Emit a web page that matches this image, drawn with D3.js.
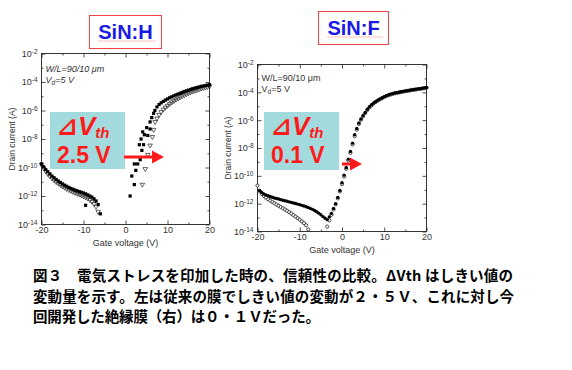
<!DOCTYPE html>
<html>
<head>
<meta charset="utf-8">
<script src="https://cdn.jsdelivr.net/npm/d3@7"></script>
<style>
  body { margin: 0; background: #fff; }
  svg { display: block; }
</style>
</head>
<body>
<script>
// ---- axis ticks ----
const xTicks = [-20, -10, 0, 10, 20];
const xMinor = [-15, -5, 5, 15];
const yTickExp = [-14, -12, -10, -8, -6, -4, -2];
const yMinorExp = [-13, -11, -9, -7, -5, -3];

// ---- data: [gate voltage (V), log10 drain current (A)] ----
// SiN:H, filled squares
const hFilled = [
  [-20,-9.75],[-19.5,-9.95],[-19,-10.15],[-18.5,-10.3],[-18,-10.45],[-17.5,-10.6],[-17,-10.72],
  [-16.5,-10.84],[-16,-10.95],[-15.5,-11.05],[-15,-11.15],[-14.5,-11.24],[-14,-11.32],[-13.5,-11.4],
  [-13,-11.47],[-12.5,-11.53],[-12,-11.59],[-11.5,-11.64],[-11,-11.69],[-10.5,-11.74],[-10,-11.79],
  [-9.5,-11.85],[-9.5,-12.65],[-9,-11.92],[-8.5,-12.0],[-8,-12.08],[-7.5,-12.2],[-7,-12.35],[-6.5,-12.6],[-6,-13.25],
  [1.1,-12.0],[1.5,-10.6],[2.1,-11.2],[2.1,-9.75],[2.45,-10.2],[2.9,-9.75],[3.3,-8.4],[3.5,-9.45],
  [3.7,-8.0],[3.9,-8.8],[4.1,-7.5],[4.3,-8.4],[4.5,-7.7],[5.05,-7.2],[5.3,-7.75],[5.85,-7.3],
  [5.85,-6.8],[6.25,-6.5],[6.7,-6.2],[7,-6.0],[7.5,-5.75],[8,-5.58],[8.5,-5.46],[9,-5.36],[9.5,-5.27],
  [10,-5.19],[10.5,-5.11],[11,-5.04],[11.5,-4.97],[12,-4.91],[12.5,-4.85],[13,-4.79],[13.5,-4.73],
  [14,-4.67],[14.5,-4.62],[15,-4.57],[15.5,-4.52],[16,-4.47],[16.5,-4.43],[17,-4.39],[17.5,-4.35],
  [18,-4.31],[18.5,-4.28],[19,-4.25],[19.5,-4.22],[20,-4.19]
];
// SiN:H, open triangles
const hOpen = [
  [-20,-9.8],[-19.5,-10.05],[-19,-10.27],[-18.5,-10.45],[-18,-10.61],[-17.5,-10.76],[-17,-10.89],
  [-16.5,-11.01],[-16,-11.12],[-15.5,-11.22],[-15,-11.32],[-14.5,-11.41],[-14,-11.49],[-13.5,-11.57],
  [-13,-11.64],[-12.5,-11.71],[-12,-11.77],[-11.5,-11.83],[-11,-11.89],[-10.5,-11.95],[-10,-12.02],
  [-9.5,-12.09],[-9,-12.17],[-8.5,-12.27],[-8,-12.39],[-7.5,-12.55],[-7,-12.75],[-6.5,-13.1],
  [4.0,-11.2],[4.7,-10.1],[5.3,-9.1],[5.85,-8.45],[6.4,-7.85],[6.7,-7.35],[7.05,-6.8],[7.5,-6.55],
  [8,-6.3],[8.5,-6.1],[9,-5.93],[9.5,-5.79],[10,-5.66],[10.5,-5.54],[11,-5.43],[11.5,-5.33],
  [12,-5.24],[12.5,-5.15],[13,-5.07],[13.5,-4.99],[14,-4.92],[14.5,-4.85],[15,-4.78],[15.5,-4.72],
  [16,-4.66],[16.5,-4.61],[17,-4.56],[17.5,-4.51],[18,-4.46],[18.5,-4.42],[19,-4.38],[19.5,-4.34],[20,-4.3]
];
// SiN:F, filled circles
const fFilled = [
  [-20,-10.75],[-19.5,-11.05],[-19,-11.2],[-18.5,-11.3],[-18,-11.37],[-17.5,-11.43],[-17,-11.49],
  [-16.5,-11.54],[-16,-11.59],[-15.5,-11.63],[-15,-11.67],[-14.5,-11.71],[-14,-11.75],[-13.5,-11.79],
  [-13,-11.83],[-12.5,-11.87],[-12,-11.91],[-11.5,-11.95],[-11,-11.99],[-10.5,-12.03],[-10,-12.07],
  [-9.5,-12.12],[-9,-12.17],[-8.5,-12.22],[-8,-12.28],[-7.5,-12.34],[-7,-12.41],[-6.5,-12.49],
  [-6,-12.58],[-5.5,-12.68],[-5,-12.8],[-4.5,-12.93],[-4,-13.05],[-3.5,-13.15],[-3,-12.95],
  [-2.5,-12.7],[-2,-12.35],[-1.5,-12.0],[-1,-11.55],[-0.5,-11.05],[0,-10.5],[0.5,-9.95],[1,-9.4],
  [1.5,-8.8],[2,-8.25],[2.5,-7.65],[3,-7.05],[3.5,-6.6],[4,-6.2],[4.5,-5.92],[5,-5.67],[5.5,-5.45],
  [6,-5.22],[6.5,-5.04],[7,-4.89],[7.5,-4.77],[8,-4.66],[8.5,-4.56],[9,-4.47],[9.5,-4.39],[10,-4.31],
  [10.5,-4.24],[11,-4.18],[11.5,-4.13],[12,-4.09],[12.5,-4.05],[13,-4.02],[13.5,-3.99],[14,-3.96],
  [14.5,-3.93],[15,-3.9],[15.5,-3.88],[16,-3.85],[16.5,-3.83],[17,-3.8],[17.5,-3.78],[18,-3.75],
  [18.5,-3.73],[19,-3.71],[19.5,-3.68],[20,-3.65]
];
// SiN:F, open circles
const fOpen = [
  [-20,-10.7],[-19.5,-11.1],[-19,-11.3],[-18.5,-11.45],[-18,-11.57],[-17.5,-11.68],[-17,-11.78],
  [-16.5,-11.88],[-16,-11.97],[-15.5,-12.06],[-15,-12.15],[-14.5,-12.24],[-14,-12.33],[-13.5,-12.42],
  [-13,-12.51],[-12.5,-12.61],[-12,-12.71],[-11.5,-12.82],[-11,-12.93],[-10.5,-13.04],[-10,-13.15],
  [-9.5,-13.27],[-9,-13.4],[-8.5,-13.55],[-8,-13.85],
  [-3.5,-13.65],[-3,-13.2],[-2.5,-12.8],[-2,-12.42],[-1.5,-12.05],[-1,-11.62],[-0.5,-11.12],[0,-10.6],
  [0.5,-10.05],[1,-9.5],[1.5,-8.9],[2,-8.35],[2.5,-7.75],[3,-7.15],[3.5,-6.68],[4,-6.27],[4.5,-5.97],
  [5,-5.72],[5.5,-5.49],[6,-5.27],[6.5,-5.08],[7,-4.93],[7.5,-4.8],[8,-4.69],[8.5,-4.59],[9,-4.5],
  [9.5,-4.42],[10,-4.34],[10.5,-4.27],[11,-4.21],[11.5,-4.16],[12,-4.11],[12.5,-4.07],[13,-4.04],
  [13.5,-4.01],[14,-3.98],[14.5,-3.95],[15,-3.92],[15.5,-3.9],[16,-3.87],[16.5,-3.83],[17,-3.82],
  [17.5,-3.8],[18,-3.77],[18.5,-3.75],[19,-3.73],[19.5,-3.7],[20,-3.67]
];

const titles = ["SiN:H", "SiN:F"];
const deltaVth = ["2.5 V", "0.1 V"];
const caption = [
  "図３　電気ストレスを印加した時の、信頼性の比較。ΔVth はしきい値の",
  "変動量を示す。左は従来の膜でしきい値の変動が２・５Ｖ、これに対し今",
  "回開発した絶縁膜（右）は０・１Ｖだった。"
];
const captionWidth = [480, 481, 287];

const FONT = "'Liberation Sans', Arial, sans-serif";
const RED = "#ff1a1a";

const svg = d3.select("body").append("svg")
  .attr("width", 572)
  .attr("height", 370);

function styleAxis(sel) {
  sel.select(".domain").remove();
  sel.selectAll("line").attr("stroke", "#222").attr("stroke-width", 0.8);
  sel.selectAll("text").attr("fill", "#333").style("font", "9px " + FONT);
}

function drawPanel(p) {
  const x = d3.scaleLinear().domain([-20, 20]).range([p.left, p.right]);
  const y = d3.scaleLog().domain([1e-14, 1e-2]).range([p.bottom, p.top]);
  const g = svg.append("g");

  // title box
  g.append("rect")
    .attr("x", p.tBox[0]).attr("y", p.tBox[1])
    .attr("width", p.tBox[2]).attr("height", p.tBox[3])
    .attr("fill", "#fff").attr("stroke", "#ee4444").attr("stroke-width", 1);
  g.append("text")
    .attr("x", p.tBox[0] + p.tBox[2] / 2).attr("y", p.tBox[1] + p.tBox[3] / 2 + 7)
    .attr("text-anchor", "middle")
    .attr("fill", "#1a1ae6")
    .style("font", "bold 20px " + FONT)
    .text(p.title);
  g.append("line")
    .attr("x1", p.tBox[0] + 9).attr("x2", p.tBox[0] + p.tBox[2] - 6)
    .attr("y1", p.tBox[1] + p.tBox[3] / 2 + 9).attr("y2", p.tBox[1] + p.tBox[3] / 2 + 9)
    .attr("stroke", "#e66").attr("stroke-width", 0.8).attr("stroke-dasharray", "1,1");

  // cyan annotation box (behind data)
  g.append("rect")
    .attr("x", p.cBox[0]).attr("y", p.cBox[1])
    .attr("width", p.cBox[2]).attr("height", p.cBox[3])
    .attr("fill", "#a3dadd");

  // axes: bottom / top / left / right, ticks inward
  g.append("g").attr("transform", `translate(0,${p.bottom})`)
    .call(d3.axisBottom(x).tickValues(xTicks).tickSize(-4).tickPadding(2).tickFormat(d => String(d)))
    .call(styleAxis);
  g.append("g").attr("transform", `translate(0,${p.bottom})`)
    .call(d3.axisBottom(x).tickValues(xMinor).tickSize(-2).tickFormat(""))
    .call(styleAxis);
  g.append("g").attr("transform", `translate(0,${p.top})`)
    .call(d3.axisTop(x).tickValues(xTicks).tickSize(-4).tickFormat(""))
    .call(styleAxis);
  g.append("g").attr("transform", `translate(0,${p.top})`)
    .call(d3.axisTop(x).tickValues(xMinor).tickSize(-2).tickFormat(""))
    .call(styleAxis);

  const yl = g.append("g").attr("transform", `translate(${p.left},0)`)
    .call(d3.axisLeft(y).tickValues(yTickExp.map(e => Math.pow(10, e))).tickSize(-4).tickPadding(4).tickFormat(""))
    .call(styleAxis);
  yl.selectAll(".tick text").each(function (d) {
    const t = d3.select(this);
    t.text(null);
    t.append("tspan").text("10");
    t.append("tspan").attr("dy", "-0.45em").style("font-size", "6.5px")
      .text(String(Math.round(Math.log10(d))));
  });
  g.append("g").attr("transform", `translate(${p.left},0)`)
    .call(d3.axisLeft(y).tickValues(yMinorExp.map(e => Math.pow(10, e))).tickSize(-2).tickFormat(""))
    .call(styleAxis);
  g.append("g").attr("transform", `translate(${p.right},0)`)
    .call(d3.axisRight(y).tickValues(yTickExp.map(e => Math.pow(10, e))).tickSize(-4).tickFormat(""))
    .call(styleAxis);
  g.append("g").attr("transform", `translate(${p.right},0)`)
    .call(d3.axisRight(y).tickValues(yMinorExp.map(e => Math.pow(10, e))).tickSize(-2).tickFormat(""))
    .call(styleAxis);

  // frame
  g.append("rect")
    .attr("x", p.left).attr("y", p.top)
    .attr("width", p.right - p.left).attr("height", p.bottom - p.top)
    .attr("fill", "none").attr("stroke", "#222").attr("stroke-width", 0.9);

  // axis titles
  g.append("text")
    .attr("x", (p.left + p.right) / 2).attr("y", p.bottom + 21)
    .attr("text-anchor", "middle").attr("fill", "#333")
    .style("font", "9px " + FONT)
    .text("Gate voltage (V)");
  g.append("text")
    .attr("transform", `translate(${p.left - 27},${(p.top + p.bottom) / 2}) rotate(-90)`)
    .attr("text-anchor", "middle").attr("fill", "#333")
    .style("font", "8.5px " + FONT)
    .text("Drain current (A)");

  // conditions
  const cond = g.append("text")
    .attr("x", p.left + 4).attr("y", p.top + p.condDy)
    .attr("fill", "#333")
    .style("font", (p.italic ? "italic " : "") + "9px " + FONT);
  cond.append("tspan").text("W/L=90/10 μm");
  cond.append("tspan").attr("x", p.left + 4).attr("dy", 11).text("V");
  cond.append("tspan").attr("dy", 2).style("font-size", "6.5px").text("d");
  cond.append("tspan").attr("dy", -2).text("=5 V");

  // data markers
  const pt = d => [x(d[0]), y(Math.pow(10, d[1]))];
  if (p.kind === "H") {
    g.append("g").selectAll("path").data(hOpen).join("path")
      .attr("transform", d => `translate(${pt(d)[0]},${pt(d)[1]}) rotate(180)`)
      .attr("d", d3.symbol(d3.symbolTriangle, 9))
      .attr("fill", "none").attr("stroke", "#222").attr("stroke-width", 0.7);
    g.append("g").selectAll("rect").data(hFilled).join("rect")
      .attr("x", d => pt(d)[0] - 1.6).attr("y", d => pt(d)[1] - 1.6)
      .attr("width", 3.2).attr("height", 3.2)
      .attr("fill", "#000");
  } else {
    g.append("g").selectAll("circle").data(fOpen).join("circle")
      .attr("cx", d => pt(d)[0]).attr("cy", d => pt(d)[1]).attr("r", 1.6)
      .attr("fill", "#fff").attr("stroke", "#222").attr("stroke-width", 0.8);
    g.append("g").selectAll("circle").data(fFilled.slice(1)).join("circle")
      .attr("cx", d => pt(d)[0]).attr("cy", d => pt(d)[1]).attr("r", 1.7)
      .attr("fill", "#000");
  }

  // delta Vth label (two lines in one text element)
  const tx = p.cBox[0] + 7;
  const dv = g.append("text")
    .attr("x", tx).attr("y", p.cBox[1] + 23)
    .attr("fill", RED)
    .style("font", "italic bold 26px " + FONT);
  dv.append("tspan").style("font-family", "'DejaVu Sans'").style("font-size", "25px").text("⊿");
  dv.append("tspan").text("V");
  dv.append("tspan").attr("dy", 2.5).style("font-size", "15px").text("th");
  dv.append("tspan").attr("x", tx).attr("dy", 25.5)
    .style("font-style", "normal").style("font-size", "23px")
    .text(p.dv);

  // arrow
  const a = p.arrow; // [x0, x1, y]
  g.append("rect")
    .attr("x", a[0]).attr("y", a[2] - 1.5)
    .attr("width", a[1] - a[0] - 10).attr("height", 3)
    .attr("fill", RED);
  g.append("path")
    .attr("d", `M${a[1] - 12},${a[2] - 6.5}L${a[1]},${a[2]}L${a[1] - 12},${a[2] + 6.5}Z`)
    .attr("fill", RED);
}

drawPanel({
  kind: "H", title: titles[0], dv: deltaVth[0], italic: true,
  left: 41.5, right: 209.5, top: 53.5, bottom: 224.5,
  tBox: [89.5, 15.5, 72, 33], cBox: [50, 112, 75, 57],
  condDy: 18, arrow: [124, 164, 157]
});
drawPanel({
  kind: "F", title: titles[1], dv: deltaVth[1], italic: false,
  left: 257.5, right: 426.5, top: 64.5, bottom: 231.5,
  tBox: [318.5, 11.5, 70, 33], cBox: [264, 112, 75, 58],
  condDy: 16, arrow: [342, 362, 164]
});

// caption
svg.append("g").selectAll("text").data(caption).join("text")
  .attr("x", 33)
  .attr("y", (d, i) => 281 + i * 20.5)
  .attr("fill", "#000")
  .attr("textLength", (d, i) => captionWidth[i])
  .attr("lengthAdjust", "spacing")
  .style("font", "bold 14.5px 'Noto Sans CJK JP', sans-serif")
  .text(d => d);
</script>
</body>
</html>
